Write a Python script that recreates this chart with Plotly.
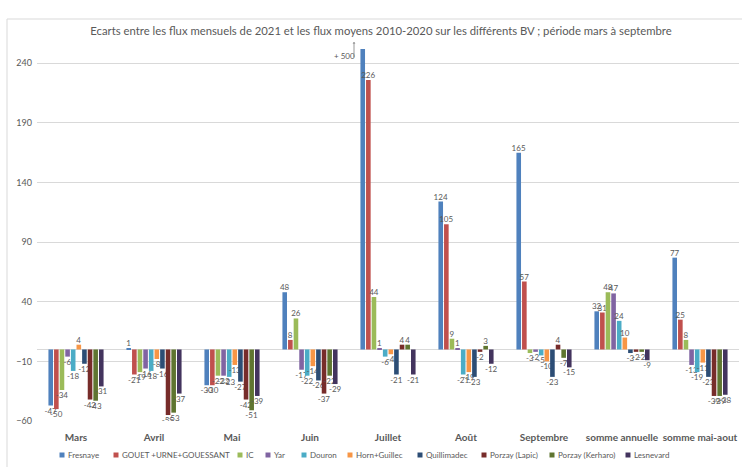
import plotly.graph_objects as go

# Categories (months and cumulative periods)
categories = ["Mars", "Avril", "Mai", "Juin", "Juillet", "Août", "Septembre",
              "somme annuelle", "somme mai-aout"]

# Deviation (%) of 2021 monthly flows vs 2010-2020 mean flows, per watershed
fresnaye = [-47, 1, -30, 48, 500, 124, 165, 32, 77]
gouet = [-50, -21, -30, 8, 226, 105, 57, 31, 25]
ic = [-34, -19, -22, 26, 44, 9, -3, 48, 8]
yar = [-6, -16, -22, -17, 1, 1, -2, 47, -13]
douron = [-18, -18, -23, -22, -6, -21, -5, 24, -19]
horn_guillec = [4, -8, -13, -14, -4, -19, -10, 10, -11]
quillimadec = [-12, -16, -27, -26, -21, -23, -23, -3, -23]
porzay_lapic = [-42, -55, -42, -37, 4, -2, 4, -2, -39]
porzay_kerharo = [-43, -53, -51, -22, 4, 3, -7, -2, -39]
lesnevard = [-31, -37, -39, -29, -21, -12, -15, -9, -38]

series_names = ["Fresnaye", "GOUET +URNE+GOUESSANT", "IC", "Yar", "Douron",
                "Horn+Guillec", "Quillimadec", "Porzay (Lapic)", "Porzay (Kerharo)",
                "Lesnevard"]
series_values = [fresnaye, gouet, ic, yar, douron, horn_guillec, quillimadec,
                 porzay_lapic, porzay_kerharo, lesnevard]
colors = ["#4F81BD", "#C0504D", "#9BBB59", "#8064A2", "#4BACC6", "#F79646",
          "#2C4D75", "#772C2A", "#5F7530", "#43345E"]

Y_MIN, Y_MAX = -60, 252
GRAY = "#595959"
FONT = "Lato"

# plot-area geometry (pixels) used for placing the hand-built legend / frame
L, R, T, B = 37, 3, 49, 46
W, H = 742, 467
PW, PH = W - L - R, H - T - B


def px_x(px):
    return (px - L) / PW


def px_y(py):
    return (H - B - py) / PH


fig = go.Figure()
for name, vals, col in zip(series_names, series_values, colors):
    texts = [str(v) if v <= Y_MAX else "" for v in vals]
    fig.add_trace(go.Bar(
        x=categories, y=vals, name=name, marker_color=col,
        marker_line_width=0,
        text=texts, textposition="outside", constraintext="none",
        textfont=dict(size=8, color=GRAY, family=FONT),
        cliponaxis=True, showlegend=False,
    ))

# Off-scale value marker for the clipped bar
for name, vals in zip(series_names, series_values):
    for cat, v in zip(categories, vals):
        if v > Y_MAX:
            fig.add_annotation(x=cat, y=Y_MAX, xref="x", yref="y",
                               text=f"+ {v}", showarrow=False,
                               xanchor="right", yanchor="middle",
                               xshift=-31, yshift=-7,
                               font=dict(size=8, color=GRAY, family=FONT))
            fig.add_annotation(x=cat, y=Y_MAX, xref="x", yref="y",
                               text="", showarrow=True, axref="pixel",
                               ayref="pixel", ax=0, ay=17, yshift=7,
                               xshift=-34, arrowhead=1, arrowsize=0.6,
                               arrowwidth=0.8, arrowcolor="#7f7f7f")

# Legend drawn as a single row of small swatches under the axis
legend_px = [62, 116, 240, 268, 304, 350, 420, 484, 552, 628]
legend_py = 455
shapes = []
for name, col, lx in zip(series_names, colors, legend_px):
    shapes.append(dict(type="rect", xref="paper", yref="paper",
                       x0=px_x(lx - 2.5), x1=px_x(lx + 2.5),
                       y0=px_y(legend_py + 2.5), y1=px_y(legend_py - 2.5),
                       fillcolor=col, line_width=0, layer="above"))
    fig.add_annotation(xref="paper", yref="paper", x=px_x(lx + 4),
                       y=px_y(legend_py), text=name, showarrow=False,
                       xanchor="left", yanchor="middle",
                       font=dict(size=8, color=GRAY, family=FONT))

# Chart frame
shapes.append(dict(type="rect", xref="paper", yref="paper",
                   x0=px_x(7), x1=px_x(760), y0=px_y(490), y1=px_y(19),
                   line=dict(color="#d9d9d9", width=1), fillcolor="rgba(0,0,0,0)",
                   layer="below"))

fig.update_layout(
    width=W, height=H,
    margin=dict(l=L, r=R, t=T, b=B),
    paper_bgcolor="white", plot_bgcolor="white",
    barmode="group", bargap=0.28, bargroupgap=0.18,
    title=dict(text="Ecarts entre les flux mensuels de 2021 et les flux moyens 2010-2020 sur les différents BV ; période mars à septembre",
               xref="paper", x=px_x(381), xanchor="center",
               y=1 - 31 / H, yanchor="middle",
               font=dict(size=11.3, color=GRAY, family=FONT)),
    font=dict(family=FONT, color=GRAY),
    shapes=shapes,
    xaxis=dict(showgrid=False, showline=False, ticks="",
               ticklabelstandoff=9,
               tickfont=dict(size=10, color=GRAY, family=FONT, weight="bold")),
    yaxis=dict(range=[Y_MIN, Y_MAX], tick0=-60, dtick=50, showgrid=True,
               gridcolor="#d9d9d9", gridwidth=1, zeroline=True,
               zerolinecolor="#d9d9d9", zerolinewidth=1, showline=False,
               tickfont=dict(size=9, color=GRAY, family=FONT), ticklen=0,
               ticklabelstandoff=4),
)

fig.write_html("out.html")
